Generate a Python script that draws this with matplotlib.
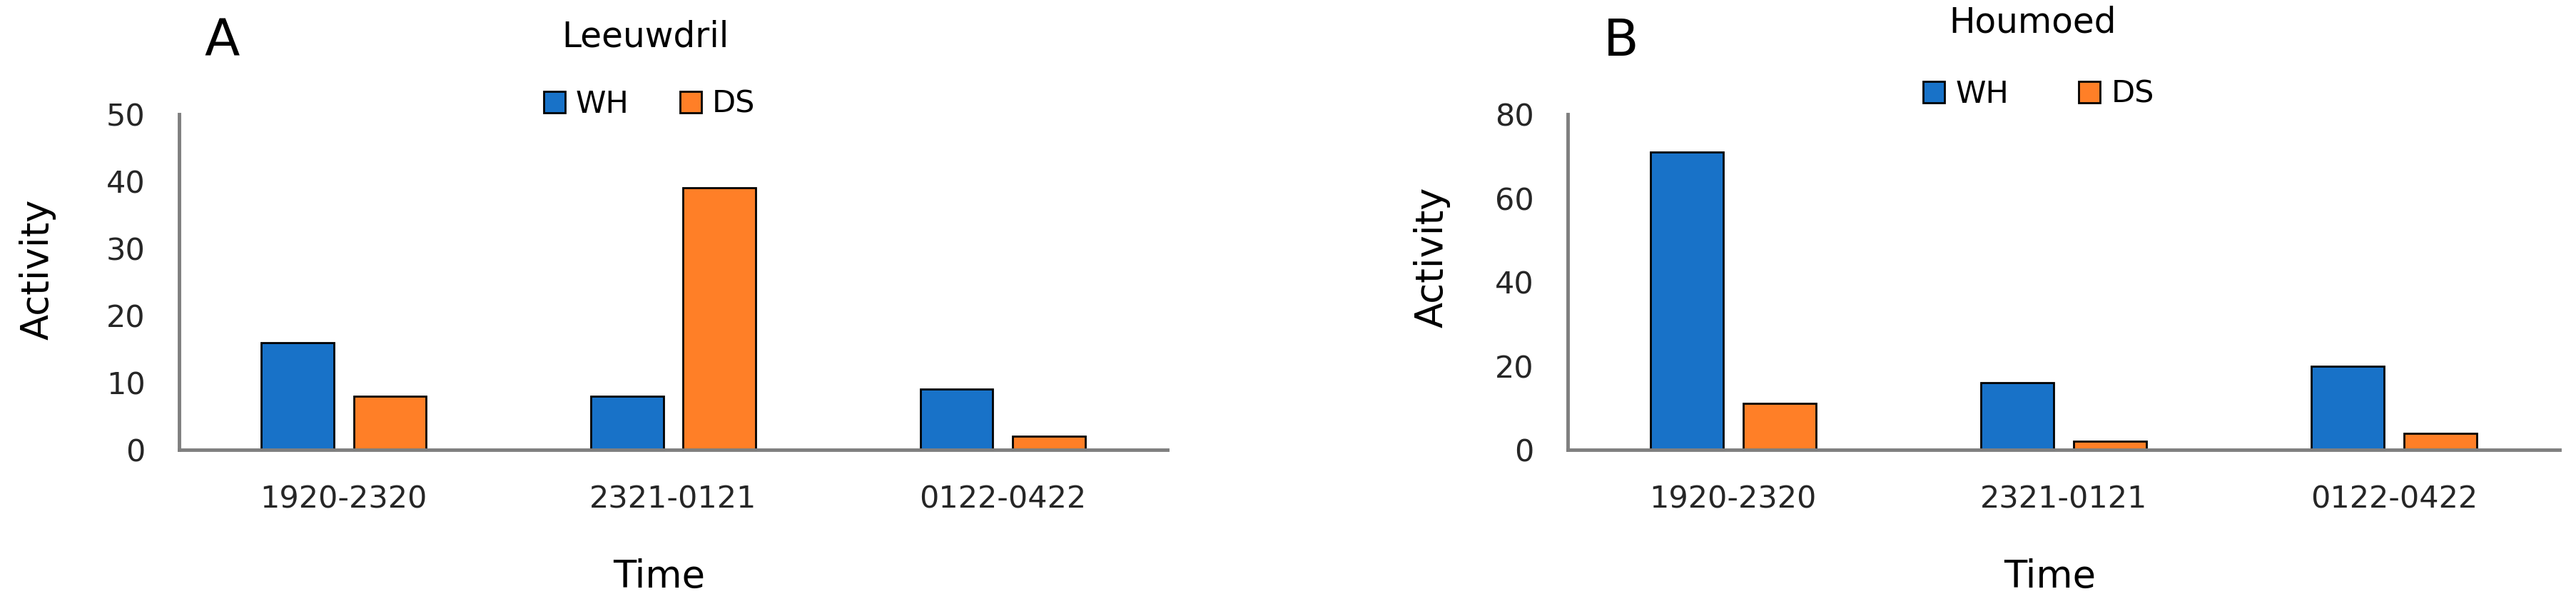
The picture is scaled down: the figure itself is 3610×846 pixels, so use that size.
import matplotlib
matplotlib.use("Agg")
import matplotlib.pyplot as plt
import numpy as np
from matplotlib.patches import Patch

categories = ["1920-2320", "2321-0121", "0122-0422"]
series_names = ["WH", "DS"]
leeuwdril_wh = [16, 8, 9]
leeuwdril_ds = [8, 39, 2]
houmoed_wh = [71, 16, 20]
houmoed_ds = [11, 2, 4]

BLUE = "#1872C8"
ORANGE = "#FF7F27"
SPINE = "#7f7f7f"

plt.rcParams['font.family'] = ['DejaVu Sans']

W, H = 3610, 846
fig = plt.figure(figsize=(W / 100, H / 100), dpi=100)

def px_axes(left, right, top, bottom):
    return fig.add_axes([left / W, (H - bottom) / H, (right - left) / W, (bottom - top) / H])

def draw(ax, wh, ds, ymax, step):
    x = np.arange(len(categories))
    w = 0.22
    ax.bar(x - 0.14, wh, w, color=BLUE, edgecolor="black", linewidth=2)
    ax.bar(x + 0.14, ds, w, color=ORANGE, edgecolor="black", linewidth=2)
    ax.set_xlim(-0.5, len(categories) - 0.5)
    ax.set_ylim(0, ymax)
    ax.set_yticks(np.arange(0, ymax + 1, step))
    ax.set_xticks(x)
    ax.set_xticklabels(categories)
    for s in ["top", "right"]:
        ax.spines[s].set_visible(False)
    for s in ["left", "bottom"]:
        ax.spines[s].set_color(SPINE)
        ax.spines[s].set_linewidth(3.5)
    ax.tick_params(axis="both", length=0, labelsize=31, colors="#262626")
    ax.tick_params(axis="x", pad=35)
    ax.tick_params(axis="y", pad=34)

axA = px_axes(251, 1636, 160, 630)
draw(axA, leeuwdril_wh, leeuwdril_ds, 50, 10)
axB = px_axes(2197, 3587, 160, 630)
draw(axB, houmoed_wh, houmoed_ds, 80, 20)

def ftext(x, y, s, size, **kw):
    fig.text(x / W, 1 - y / H, s, fontsize=size, ha="center", va="center", color="black", **kw)

ftext(311, 58, "A", 52)
ftext(2272, 58, "B", 52)
ftext(904, 51, "Leeuwdril", 35)
ftext(2848, 32, "Houmoed", 35)
ftext(53, 377, "Activity", 38, rotation=90)
ftext(2007, 360, "Activity", 38, rotation=90)
ftext(924, 808, "Time", 38)
ftext(2873, 808, "Time", 38)

handles = [Patch(facecolor=BLUE, edgecolor="black", linewidth=2),
           Patch(facecolor=ORANGE, edgecolor="black", linewidth=2)]
for cx, cy, cs in [(910, 146, 1.65), (2857, 132, 2.28)]:
    fig.legend(handles, series_names, loc="center", bbox_to_anchor=(cx / W, 1 - cy / H),
               ncol=2, frameon=False, fontsize=31, handlelength=0.7, handleheight=0.7,
               handletextpad=0.35, columnspacing=cs, borderpad=0)

fig.savefig("out.png", dpi=100, facecolor="white")
